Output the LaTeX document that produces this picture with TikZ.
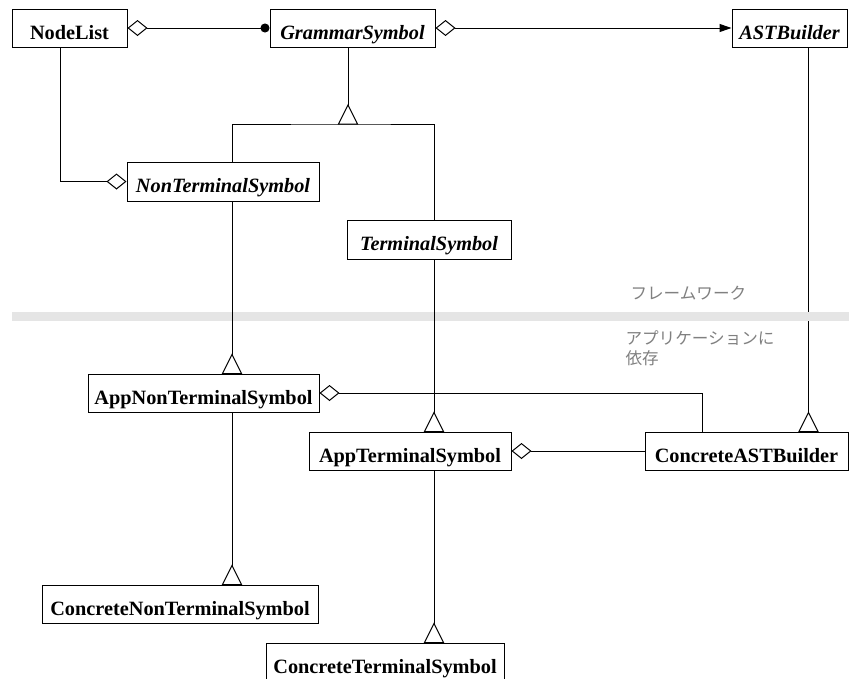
\documentclass[tikz,border=0pt]{standalone}
\usepackage{fontspec}
\setmainfont{Liberation Serif}
\newfontfamily\jpfont{Noto Sans CJK JP}
\usetikzlibrary{arrows.meta}
\begin{document}
\begin{tikzpicture}[x=1pt,y=-1pt,line width=1pt,
  cls/.style={draw,fill=white,inner sep=0pt,minimum height=38pt,
    text height=22pt,text depth=0pt,font=\fontsize{20.3}{24}\selectfont\bfseries},
  abs/.style={cls,font=\fontsize{20.3}{24}\selectfont\bfseries\itshape},
  dia/.tip={Diamond[open,length=20pt,width=16pt]},
  agg/.style={{dia}-},
  note/.style={font=\jpfont\fontsize{16.6}{20}\selectfont,text=black!50,inner sep=0pt},
  gen/.pic={\draw[fill=white] (-9.5,0) -- (0,-19) -- (9.5,0) -- cycle;}]
\useasboundingbox (0,0) rectangle (849,678);
\clip (0,0) rectangle (849,678);

% classes
\node[cls,minimum width=115pt] (nl) at (69.5,28) {NodeList};
\node[abs,minimum width=165pt] (gs) at (352.5,28) {GrammarSymbol};
\node[abs,minimum width=115pt] (ab) at (789.5,28) {ASTBuilder};
\node[abs,minimum width=192pt,minimum height=39pt] (nt) at (223,181.5) {NonTerminalSymbol};
\node[abs,minimum width=164pt,minimum height=39pt] (ts) at (429,239.5) {TerminalSymbol};
\node[cls,minimum width=231pt] (ant) at (203.5,393) {AppNonTerminalSymbol};
\node[cls,minimum width=202pt] (ats) at (410,451) {AppTerminalSymbol};
\node[cls,minimum width=203pt] (cab) at (746.5,451) {ConcreteASTBuilder};
\node[cls,minimum width=276pt] (cnt) at (180,604) {ConcreteNonTerminalSymbol};
\node[cls,minimum width=238pt] (cts) at (385,662) {ConcreteTerminalSymbol};

% columns of the vertical connectors
\coordinate (xn) at (60,0);
\coordinate (xg) at (348,0);
\coordinate (xl) at (232,0);
\coordinate (xr) at (434,0);
\coordinate (xc) at (702,0);
\coordinate (xb) at (808.5,0);
\coordinate (jg) at (348,124);

% builder hierarchy (runs under the layer separator)
\draw (ab.south -| xb) -- (cab.north -| xb);

% separator between framework and application layers
\fill[black!10] (12,312) rectangle (849,321);
\node[note,anchor=base west] (fw) at (630,299) {フレームワーク};
\node[note,anchor=base west,align=left] (ap) at (625,364) {アプリケーションに\\依存};

% associations
\draw[{dia}-{Circle[length=9pt]}] (nl) -- (gs);
\draw[{dia}-{Triangle[length=12pt,width=8pt]}] (gs) -- (ab);
\draw[-{dia}] (nl.south -| xn) |- (nt.west);
\draw[agg] (ant.east) -| (cab.north -| xc);
\draw[agg] (ats.east) -- (cab.west);

% generalizations
\draw (gs.south -| xg) -- (jg);
\draw (nt.north -| xl) |- (jg) -| (ts.north -| xr);
\draw (nt.south -| xl) -- (ant.north -| xl);
\draw (ts.south -| xr) -- (ats.north -| xr);
\draw (ant.south -| xl) -- (cnt.north -| xl);
\draw (ats.south -| xr) -- (cts.north -| xr);
\pic at (jg) {gen};
\pic at (ant.north -| xl) {gen};
\pic at (ats.north -| xr) {gen};
\pic at (cab.north -| xb) {gen};
\pic at (cnt.north -| xl) {gen};
\pic at (cts.north -| xr) {gen};
\end{tikzpicture}
\end{document}
